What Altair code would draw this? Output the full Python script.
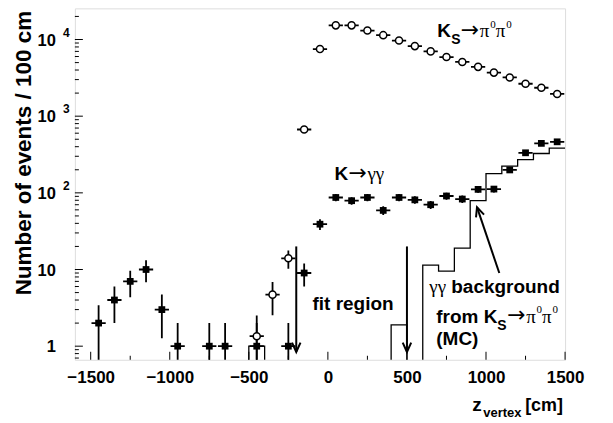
import altair as alt
import pandas as pd
import numpy as np

# ---------------- data ----------------
# K_S -> pi0 pi0 (open circles), bin centres [cm] and counts / 100 cm
ks_z = [-450, -350, -250, -150, -50, 50, 150, 250, 350, 450, 550, 650, 750,
        850, 950, 1050, 1150, 1250, 1350, 1450]
ks_n = [1.35, 4.7, 14, 670, 7500, 15300, 15300, 13100, 11400, 9700, 8200, 7000,
        5900, 5100, 4400, 3700, 3200, 2650, 2350, 1950]

# K -> gamma gamma (filled squares)
gg_z = [-1450, -1350, -1250, -1150, -1050, -950, -750, -650, -450, -250, -150,
        -50, 50, 150, 250, 350, 450, 550, 650, 750, 850, 950, 1050, 1150, 1250,
        1350, 1450]
gg_n = [2, 4, 7, 10, 3, 1, 1, 1, 1, 1, 9, 39, 87, 79, 87, 59, 87, 81, 70, 91,
        83, 111, 112, 199, 333, 442, 463]

# gamma-gamma background from K_S -> pi0 pi0 (MC), histogram left bin edges
mc_edge = [-600, -500, -400, 400, 500, 600, 700, 800, 900, 1000, 1100, 1200,
           1300, 1400, 1500]
mc_n = [0, 1, 0, 1.9, 0, 11.4, 9.5, 19, 79, 178, 223, 272, 326, 383, 383]

# fit-region arrows
fit_z = [-200, 500]
fit_top = [20, 20]
fit_tip = [0.84, 0.84]

# arrow pointing to the MC histogram
bkg_tail = (1084, 9.0)
bkg_tip = (943, 65)

# ticks
x_major = [-1500, -1000, -500, 0, 500, 1000, 1500]
x_minor = [-1250, -750, -250, 250, 750, 1250]
y_major = [1, 10, 100, 1000, 10000]
y_major_base = ["1", "10", "10", "10", "10"]
y_major_exp = ["", "", "2", "3", "4"]
y_minor = [0.7, 0.8, 0.9, 2, 3, 4, 5, 6, 7, 8, 9, 20, 30, 40, 50, 60, 70, 80, 90,
           200, 300, 400, 500, 600, 700, 800, 900, 2000, 3000, 4000, 5000, 6000,
           7000, 8000, 9000, 20000]

# ---------------- layout ----------------
W, H = 491, 352
X0, Y0 = 75, 8           # page position of the plot origin
SANS = "Liberation Sans"
SERIF = "Liberation Serif"
ARROWF = "DejaVu Sans"
HALF = 45                # half bin width of the horizontal error bars
FLOOR = 0.01

xs = alt.Scale(domain=[-1600, 1500], nice=False, zero=False)
ys = alt.Scale(type="log", domain=[0.665, 25500], nice=False)
xax = alt.Axis(values=x_major, title=None, ticks=False, domain=False, grid=False,
               labelFont=SANS, labelFontSize=17, labelFontWeight="bold",
               labelColor="black", labelPadding=10, labelFlush=False,
               labelOverlap=False, format="d")


def X(f):
    return alt.X(f, type="quantitative", scale=xs, axis=xax)


def Y(f):
    return alt.Y(f, type="quantitative", scale=ys, axis=None)


def err_df(z, n):
    n = np.asarray(n, dtype=float)
    e = np.sqrt(n)
    return pd.DataFrame({
        "z": z, "n": n,
        "lo": np.maximum(n - e, FLOOR), "hi": n + e,
        "zl": np.asarray(z) - HALF, "zr": np.asarray(z) + HALF,
    })


ks = err_df(ks_z, ks_n)
gg = err_df(gg_z, gg_n)
mc = pd.DataFrame({"z": mc_edge, "n": np.maximum(np.asarray(mc_n, float), 0.05)})

layers = []

# MC histogram
layers.append(alt.Chart(mc).mark_line(interpolate="step-after", color="black",
                                      strokeWidth=1.3, clip=True)
              .encode(x=X("z"), y=Y("n")))

# error bars
for df in (gg, ks):
    layers.append(alt.Chart(df).mark_rule(color="black", strokeWidth=1.8, clip=True)
                  .encode(x=X("z"), y=Y("lo"), y2="hi"))
    layers.append(alt.Chart(df).mark_rule(color="black", strokeWidth=1.8, clip=True)
                  .encode(x=X("zl"), x2="zr", y=Y("n")))

# markers
layers.append(alt.Chart(gg).mark_point(shape="square", size=46, filled=True,
                                       color="black", opacity=1)
              .encode(x=X("z"), y=Y("n")))
layers.append(alt.Chart(ks).mark_point(shape="circle", size=50, filled=True,
                                       fill="white", stroke="black",
                                       strokeWidth=1.5, opacity=1, fillOpacity=1)
              .encode(x=X("z"), y=Y("n")))

# fit region arrows
fit = pd.DataFrame({"z": fit_z, "top": fit_top, "tip": fit_tip})
layers.append(alt.Chart(fit).mark_rule(color="black", strokeWidth=2)
              .encode(x=X("z"), y=Y("tip"), y2="top"))
VPATH = "M-1,-2.2L0,0L1,-2.2"
layers.append(alt.Chart(fit).mark_point(shape=VPATH, size=72, filled=False,
                                        color="black", strokeWidth=2, opacity=1)
              .encode(x=X("z"), y=Y("tip")))

# background arrow
bk = pd.DataFrame({"z": [bkg_tail[0]], "n": [bkg_tail[1]],
                   "z2": [bkg_tip[0]], "n2": [bkg_tip[1]]})
layers.append(alt.Chart(bk).mark_rule(color="black", strokeWidth=2)
              .encode(x=X("z"), y=Y("n"), x2="z2", y2="n2"))
layers.append(alt.Chart(bk).mark_point(shape=VPATH, size=72, filled=False,
                                       color="black", strokeWidth=2, opacity=1,
                                       angle=161)
              .encode(x=X("z2"), y=Y("n2")))

# inward ticks
layers.append(alt.Chart(pd.DataFrame({"v": y_major})).mark_rule(color="black", strokeWidth=1)
              .encode(y=Y("v"), x=alt.value(0), x2=alt.value(8)))
layers.append(alt.Chart(pd.DataFrame({"v": y_minor})).mark_rule(color="black", strokeWidth=1)
              .encode(y=Y("v"), x=alt.value(0), x2=alt.value(4)))
layers.append(alt.Chart(pd.DataFrame({"v": x_major})).mark_rule(color="black", strokeWidth=1)
              .encode(x=X("v"), y=alt.value(H), y2=alt.value(H - 8)))
layers.append(alt.Chart(pd.DataFrame({"v": x_minor})).mark_rule(color="black", strokeWidth=1)
              .encode(x=X("v"), y=alt.value(H), y2=alt.value(H - 4)))

# y tick labels (10 with exponent)
ylab = pd.DataFrame({"v": y_major, "b": y_major_base, "e": y_major_exp})
layers.append(alt.Chart(ylab).mark_text(align="right", baseline="middle", font=SANS,
                                        fontSize=16.5, fontWeight="bold", color="black",
                                        dy=1)
              .encode(y=Y("v"), x=alt.value(56 - X0), text="b:N"))
layers.append(alt.Chart(ylab).transform_filter("datum.e != ''")
              .mark_text(align="left", baseline="middle", font=SANS, fontSize=12,
                         fontWeight="bold", color="black", dy=-7)
              .encode(y=Y("v"), x=alt.value(63 - X0), text="e:N"))

# y title
layers.append(alt.Chart(pd.DataFrame({"t": ["Number of events / 100 cm"]}))
              .mark_text(align="center", baseline="middle", angle=270, font=SANS,
                         fontSize=22.5, fontWeight="bold", color="black")
              .encode(x=alt.value(24 - X0), y=alt.value(153 - Y0), text="t:N"))

# annotation pieces: text, page x, page baseline y, size, font, weight
pieces = [
    ("K", 438, 37, 19, SANS, "bold"),
    ("S", 452, 43.5, 14, SANS, "bold"),
    ("\u2192", 461.5, 36.5, 22, ARROWF, "normal"),
    ("\u03c0", 480.5, 37, 19, SERIF, "normal"),
    ("0", 491, 27.5, 11, SERIF, "normal"),
    ("\u03c0", 496.5, 37, 19, SERIF, "normal"),
    ("0", 507, 27.5, 11, SERIF, "normal"),
    ("K", 335, 180, 19, SANS, "bold"),
    ("\u2192", 349, 179.5, 22, ARROWF, "normal"),
    ("\u03b3\u03b3", 368, 180, 19, SERIF, "normal"),
    ("fit region", 313, 310, 19, SANS, "bold"),
    ("\u03b3\u03b3", 430, 293, 19, SERIF, "normal"),
    ("background", 452, 293, 19, SANS, "bold"),
    ("from", 437, 323, 19, SANS, "bold"),
    ("K", 484.5, 323, 19, SANS, "bold"),
    ("S", 498, 330, 14, SANS, "bold"),
    ("\u2192", 508, 322.5, 22, ARROWF, "normal"),
    ("\u03c0", 527, 323, 19, SERIF, "normal"),
    ("0", 537.5, 313.5, 11, SERIF, "normal"),
    ("\u03c0", 543, 323, 19, SERIF, "normal"),
    ("0", 553.5, 313.5, 11, SERIF, "normal"),
    ("(MC)", 437, 345, 19, SANS, "bold"),
    ("z", 473, 411.5, 19, SANS, "bold"),
    ("vertex", 484, 417, 13, SANS, "bold"),
    ("[cm]", 526, 411.5, 18, SANS, "bold"),
]
for t, px, py, sz, fam, wt in pieces:
    layers.append(alt.Chart(pd.DataFrame({"t": [t]}))
                  .mark_text(align="left", baseline="alphabetic", font=fam,
                             fontSize=sz, fontWeight=wt, color="black")
                  .encode(x=alt.value(px - X0), y=alt.value(py - Y0), text="t:N"))

chart = (alt.layer(*layers)
         .properties(width=W, height=H,
                     autosize=alt.AutoSizeParams(type="none"),
                     padding={"left": X0 - 8, "top": 0, "right": 40, "bottom": 64})
         .configure_view(stroke="black", strokeWidth=2)
         .configure(background="white"))

chart.save("out.html", embed_options={"renderer": "svg", "actions": False})
